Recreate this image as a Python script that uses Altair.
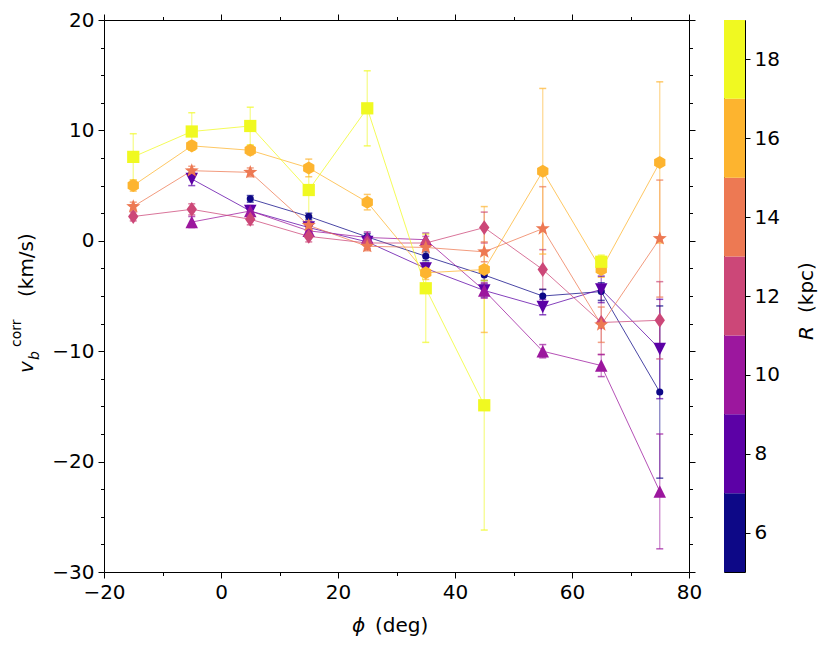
import altair as alt
import pandas as pd
import numpy as np

# ---------------- data ----------------
phi = [-15, -5, 5, 15, 25, 35, 45, 55, 65, 75]
R_list = [6, 8, 10, 12, 14, 16, 18]

v_R6 = [None, None, 3.8, 2.2, 0.35, -1.4, -3.1, -5.0, -4.6, -13.7]
e_R6 = [None, None, 0.3, 0.3, 0.3, 0.4, 0.5, 0.6, 0.8, 7.8]
v_R8 = [None, 5.6, 2.7, 1.2, -0.1, -2.5, -4.5, -6.0, -4.4, -9.8]
e_R8 = [None, 0.6, 0.4, 0.4, 0.4, 0.5, 0.6, 0.7, 1.2, 4.5]
v_R10 = [None, 1.7, 2.7, 0.9, 0.3, 0.1, -4.5, -10.0, -11.3, -22.7]
e_R10 = [None, 0.5, 0.5, 0.5, 0.5, 0.6, 0.7, 0.6, 1.0, 5.2]
v_R12 = [2.2, 2.85, 1.95, 0.4, -0.2, -0.2, 1.2, -2.6, -7.4, -7.2]
e_R12 = [0.4, 0.5, 0.5, 0.5, 0.5, 0.6, 1.4, 1.8, 2.9, 3.5]
v_R14 = [3.1, 6.35, 6.2, 1.4, -0.5, -0.6, -1.0, 1.1, -7.6, 0.2]
e_R14 = [0.4, 0.4, 0.4, 0.4, 0.4, 0.6, 0.9, 3.8, 1.6, 5.3]
v_R16 = [5.0, 8.6, 8.2, 6.6, 3.5, -2.9, -2.6, 6.3, -2.6, 7.1]
e_R16 = [0.5, 0.4, 0.4, 0.8, 0.7, 0.6, 5.7, 7.5, 0.7, 7.3]
v_R18 = [7.6, 9.9, 10.4, 4.6, 12.0, -4.3, -14.9, None, -1.9, None]
e_R18 = [2.1, 1.7, 1.7, 2.3, 3.4, 4.9, 11.3, None, 0.6, None]

series_v = [v_R6, v_R8, v_R10, v_R12, v_R14, v_R16, v_R18]
series_e = [e_R6, e_R8, e_R10, e_R12, e_R14, e_R16, e_R18]

colors = ["#0d0887", "#5c01a6", "#9c179e", "#cc4778", "#ed7953", "#fdb42f", "#f0f921"]

cbar_lo = [5, 7, 9, 11, 13, 15, 17]
cbar_hi = [7, 9, 11, 13, 15, 17, 19]
cbar_ticks = [6, 8, 10, 12, 14, 16, 18]

x_major = [-20, 0, 20, 40, 60, 80]
x_minor = [-10, 10, 30, 50, 70]
y_major = [-30, -20, -10, 0, 10, 20]
y_minor = [-27.5, -25, -22.5, -17.5, -15, -12.5, -7.5, -5, -2.5,
           2.5, 5, 7.5, 12.5, 15, 17.5]

# ---------------- marker shapes ----------------
def star_path():
    pts = []
    for k in range(10):
        ang = -np.pi / 2 + k * np.pi / 5
        r = 1.0 if k % 2 == 0 else 0.42
        pts.append((r * np.cos(ang), r * np.sin(ang)))
    return "M" + "L".join(f"{x:.3f},{y:.3f}" for x, y in pts) + "Z"

tri_down = "M0,1L1,-1L-1,-1Z"
tri_up = "M0,-1L1,1L-1,1Z"
thin_diamond = "M0,-1L0.7,0L0,1L-0.7,0Z"
hexagon = "M0,-1L0.866,-0.5L0.866,0.5L0,1L-0.866,0.5L-0.866,-0.5Z"
shapes = ["circle", tri_down, tri_up, thin_diamond, star_path(), hexagon, "square"]
sizes = [50, 155, 155, 220, 220, 170, 150]

R_labels = [str(r) for r in R_list]

rows = []
for R, vs, es in zip(R_list, series_v, series_e):
    seg = 0
    for p, v, e in zip(phi, vs, es):
        if v is None:
            seg += 1
            continue
        rows.append(dict(R=str(R), phi=p, v=v, lo=v - e, hi=v + e, seg=f"{R}_{seg}"))
df = pd.DataFrame(rows)

W, H = 585, 552
FONT = "DejaVu Sans"

xs = alt.Scale(domain=[-20, 80], nice=False, zero=False)
ys = alt.Scale(domain=[-30, 20], nice=False, zero=False)
color_enc = alt.Color("R:N", scale=alt.Scale(domain=R_labels, range=colors), legend=None)


def axis(orient, values, size, labels=False):
    return alt.Axis(orient=orient, values=values, tickSize=size, labels=labels,
                    title=None, grid=False, domain=False, labelPadding=4,
                    labelFlush=False, labelOverlap=False,
                    labelFontSize=20, labelFont=FONT, labelColor="black",
                    tickColor="black", tickWidth=1)


base = alt.Chart(df)

axis_layers = []
for xo, yo, xv, yv, sz, lab in [
    ("bottom", "left", x_major, y_major, 6, True),
    ("top", "right", x_major, y_major, 6, False),
    ("bottom", "left", x_minor, y_minor, 3.5, False),
    ("top", "right", x_minor, y_minor, 3.5, False),
]:
    axis_layers.append(
        base.mark_point(opacity=0).encode(
            x=alt.X("phi:Q", scale=xs, axis=axis(xo, xv, sz, lab)),
            y=alt.Y("v:Q", scale=ys, axis=axis(yo, yv, sz, lab)),
        )
    )

X = alt.X("phi:Q", scale=xs, axis=None)

errbars = base.mark_rule(strokeWidth=1.3, opacity=0.5).encode(
    x=X, y=alt.Y("lo:Q", scale=ys, axis=None), y2="hi:Q", color=color_enc)
cap_lo = base.mark_tick(orient="horizontal", size=7, thickness=1.5, opacity=0.7).encode(
    x=X, y=alt.Y("lo:Q", scale=ys, axis=None), color=color_enc)
cap_hi = base.mark_tick(orient="horizontal", size=7, thickness=1.5, opacity=0.7).encode(
    x=X, y=alt.Y("hi:Q", scale=ys, axis=None), color=color_enc)
lines = base.mark_line(strokeWidth=1, opacity=0.75).encode(
    x=X, y=alt.Y("v:Q", scale=ys, axis=None), color=color_enc,
    detail="seg:N", order="phi:Q")
points = base.mark_point(filled=True, opacity=1, strokeWidth=0).encode(
    x=X, y=alt.Y("v:Q", scale=ys, axis=None), color=color_enc,
    shape=alt.Shape("R:N", scale=alt.Scale(domain=R_labels, range=shapes), legend=None),
    size=alt.Size("R:O", scale=alt.Scale(type="ordinal", domain=R_labels, range=sizes),
                  legend=None),
)

one = pd.DataFrame({"k": [0]})


def label(text, x, y, size=20, italic=False, angle=0):
    kw = dict(text=text, font=FONT, fontSize=size, align="left",
              baseline="alphabetic", color="black")
    if italic:
        kw["fontStyle"] = "italic"
    if angle:
        kw["angle"] = angle
    return alt.Chart(one).mark_text(**kw).encode(x=alt.value(x), y=alt.value(y))


titles = [
    label("v", -71, 353, 20, True, 270),
    label("b", -65, 340, 14, True, 270),
    label("corr", -83, 327, 14, False, 270),
    label("(km/s)", -71, 277, 20, False, 270),
    label("ϕ", 248, 612, 20, True),
    label("(deg)", 271, 612, 20, False),
]

main = alt.layer(*axis_layers, errbars, cap_lo, cap_hi, lines, points, *titles).resolve_axis(
    x="independent", y="independent").properties(width=W, height=H)

cb_df = pd.DataFrame({"lo": cbar_lo, "hi": cbar_hi, "c": colors})
cbar_rect = alt.Chart(cb_df).mark_rect().encode(
    x=alt.value(0), x2=alt.value(21),
    y=alt.Y("lo:Q", scale=alt.Scale(domain=[5, 19], nice=False, zero=False),
            axis=axis("right", cbar_ticks, 5, True)),
    y2="hi:Q",
    color=alt.Color("c:N", scale=None),
)
cbar = alt.layer(
    cbar_rect,
    label("R", 89, 320, 20, True, 270),
    label("(kpc)", 89, 293, 20, False, 270),
).properties(width=21, height=H)

chart = alt.hconcat(main, cbar, spacing=20).configure_view(
    stroke="black", strokeWidth=1).properties(
    padding={"left": 1, "top": 1, "right": 0, "bottom": 0})

chart.save("out.html", embed_options={"renderer": "svg", "actions": False})
